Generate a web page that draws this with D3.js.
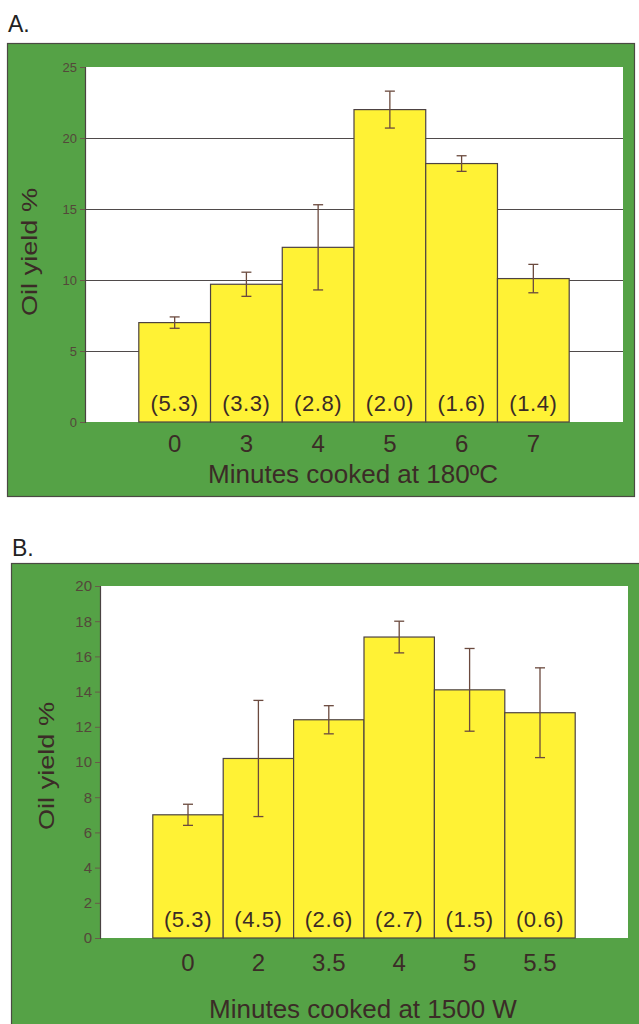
<!DOCTYPE html>
<html>
<head>
<meta charset="utf-8">
<script src="https://cdn.jsdelivr.net/npm/d3@7"></script>
<style>
  body { margin: 0; background: #ffffff; }
  svg { display: block; font-family: "Liberation Sans", Arial, sans-serif; }
</style>
</head>
<body>
<svg id="chart" width="639" height="1024"></svg>
<script>
// ========== DATA ==========
var catsA = ['0', '3', '4', '5', '6', '7'];
var valsA = [7.0, 9.7, 12.3, 22.0, 18.2, 10.1];
var errA = [0.4, 0.85, 3.0, 1.3, 0.55, 1.0];
var notesA = ['(5.3)', '(3.3)', '(2.8)', '(2.0)', '(1.6)', '(1.4)'];
var ticksA = [0, 5, 10, 15, 20, 25];
var gridA = [5, 10, 15, 20];

var catsB = ['0', '2', '3.5', '4', '5', '5.5'];
var valsB = [7.0, 10.2, 12.4, 17.1, 14.1, 12.8];
var errB = [0.6, 3.3, 0.8, 0.9, 2.35, 2.55];
var notesB = ['(5.3)', '(4.5)', '(2.6)', '(2.7)', '(1.5)', '(0.6)'];
var ticksB = [0, 2, 4, 6, 8, 10, 12, 14, 16, 18, 20];
var gridB = [];

// ========== STYLE ==========
var green = '#55a246';
var yellow = '#fff235';
var dark = '#3b2b27';
var tickColor = '#54473a';
var barStroke = '#4d4242';
var errColor = '#6b4a3e';

var svg = d3.select('#chart');

drawPanel({
	label: 'A.', labelX: 8, labelY: 32,
	box: [7, 43, 634, 496],
	plot: [85, 67, 623, 422],
	cats: catsA, vals: valsA, errs: errA, notes: notesA,
	ticks: ticksA, grid: gridA, ymax: 25, tickFont: 13,
	xtitle: 'Minutes cooked at 180ºC',
	titleY: 483, tickY: 452, noteY: 411,
	ytitleX: 37, ytitleY: 252
});

drawPanel({
	label: 'B.', labelX: 12, labelY: 556,
	box: [11, 563, 660, 1040],
	plot: [100, 586, 628, 938],
	cats: catsB, vals: valsB, errs: errB, notes: notesB,
	ticks: ticksB, grid: gridB, ymax: 20, tickFont: 15,
	xtitle: 'Minutes cooked at 1500 W',
	titleY: 1018, tickY: 971, noteY: 927,
	ytitleX: 54, ytitleY: 766
});

function drawPanel(cfg) {
	var g = svg.append('g');

	// panel label outside the green frame
	g.append('text')
		.attr('x', cfg.labelX)
		.attr('y', cfg.labelY)
		.attr('fill', '#222')
		.style('font-size', '23px')
		.text(cfg.label);

	// green frame
	g.append('rect')
		.attr('x', cfg.box[0] + 0.5)
		.attr('y', cfg.box[1] + 0.5)
		.attr('width', cfg.box[2] - cfg.box[0])
		.attr('height', cfg.box[3] - cfg.box[1])
		.attr('fill', green)
		.attr('stroke', '#4a4a42')
		.attr('stroke-width', 1.2);

	// white plot area
	g.append('rect')
		.attr('x', cfg.plot[0])
		.attr('y', cfg.plot[1])
		.attr('width', cfg.plot[2] - cfg.plot[0])
		.attr('height', cfg.plot[3] - cfg.plot[1])
		.attr('fill', '#ffffff');

	var x = d3.scaleBand()
		.domain(cfg.cats)
		.range([cfg.plot[0], cfg.plot[2]])
		.paddingInner(0)
		.paddingOuter(0.75);
	var y = d3.scaleLinear()
		.domain([0, cfg.ymax])
		.range([cfg.plot[3], cfg.plot[1]]);

	// gridlines
	g.selectAll('.grid')
		.data(cfg.grid)
		.enter().append('line')
		.attr('x1', cfg.plot[0])
		.attr('x2', cfg.plot[2])
		.attr('y1', function(d) { return Math.round(y(d)) + 0.5; })
		.attr('y2', function(d) { return Math.round(y(d)) + 0.5; })
		.attr('stroke', '#4f4a4a')
		.attr('stroke-width', 1);

	// y axis
	var yAxis = g.append('g')
		.attr('transform', 'translate(' + cfg.plot[0] + ',0)')
		.call(d3.axisLeft(y).tickValues(cfg.ticks).tickSize(5).tickPadding(3));
	yAxis.select('.domain').attr('stroke', '#4a4242').attr('stroke-width', 1.2);
	yAxis.selectAll('.tick line').attr('stroke', '#6a5a4a');
	yAxis.selectAll('.tick text')
		.attr('fill', tickColor)
		.style('font-size', cfg.tickFont + 'px')
		.style('font-family', '"Liberation Sans", Arial, sans-serif');

	// bars
	var data = cfg.cats.map(function(c, i) {
		return { cat: c, val: cfg.vals[i], err: cfg.errs[i], note: cfg.notes[i] };
	});

	g.selectAll('.bar')
		.data(data)
		.enter().append('rect')
		.attr('class', 'bar')
		.attr('x', function(d) { return x(d.cat); })
		.attr('y', function(d) { return y(d.val); })
		.attr('width', x.bandwidth())
		.attr('height', function(d) { return y(0) - y(d.val); })
		.attr('fill', yellow)
		.attr('stroke', barStroke)
		.attr('stroke-width', 1.2);

	// error bars
	var cap = 5;
	var eb = g.selectAll('.err')
		.data(data)
		.enter().append('g')
		.attr('class', 'err')
		.attr('stroke', errColor)
		.attr('stroke-width', 1.3);
	eb.append('line')
		.attr('x1', function(d) { return x(d.cat) + x.bandwidth() / 2; })
		.attr('x2', function(d) { return x(d.cat) + x.bandwidth() / 2; })
		.attr('y1', function(d) { return y(d.val + d.err); })
		.attr('y2', function(d) { return y(d.val - d.err); });
	eb.append('line')
		.attr('x1', function(d) { return x(d.cat) + x.bandwidth() / 2 - cap; })
		.attr('x2', function(d) { return x(d.cat) + x.bandwidth() / 2 + cap; })
		.attr('y1', function(d) { return y(d.val + d.err); })
		.attr('y2', function(d) { return y(d.val + d.err); });
	eb.append('line')
		.attr('x1', function(d) { return x(d.cat) + x.bandwidth() / 2 - cap; })
		.attr('x2', function(d) { return x(d.cat) + x.bandwidth() / 2 + cap; })
		.attr('y1', function(d) { return y(d.val - d.err); })
		.attr('y2', function(d) { return y(d.val - d.err); });

	// notes inside bars
	g.selectAll('.note')
		.data(data)
		.enter().append('text')
		.attr('class', 'note')
		.attr('x', function(d) { return x(d.cat) + x.bandwidth() / 2; })
		.attr('y', cfg.noteY)
		.attr('text-anchor', 'middle')
		.attr('fill', dark)
		.style('font-size', '22px')
		.style('letter-spacing', '0.6px')
		.text(function(d) { return d.note; });

	// x tick labels
	g.selectAll('.xlab')
		.data(data)
		.enter().append('text')
		.attr('class', 'xlab')
		.attr('x', function(d) { return x(d.cat) + x.bandwidth() / 2; })
		.attr('y', cfg.tickY)
		.attr('text-anchor', 'middle')
		.attr('fill', dark)
		.style('font-size', '24px')
		.text(function(d) { return d.cat; });

	// axis titles
	g.append('text')
		.attr('x', (cfg.plot[0] + cfg.plot[2]) / 2 - 1)
		.attr('y', cfg.titleY)
		.attr('text-anchor', 'middle')
		.attr('fill', dark)
		.style('font-size', '26px')
		.text(cfg.xtitle);

	g.append('text')
		.attr('transform', 'translate(' + cfg.ytitleX + ',' + cfg.ytitleY + ')rotate(-90)')
		.attr('text-anchor', 'middle')
		.attr('fill', dark)
		.attr('textLength', 128)
		.attr('lengthAdjust', 'spacingAndGlyphs')
		.style('font-size', '22px')
		.text('Oil yield %');
}
</script>
</body>
</html>
